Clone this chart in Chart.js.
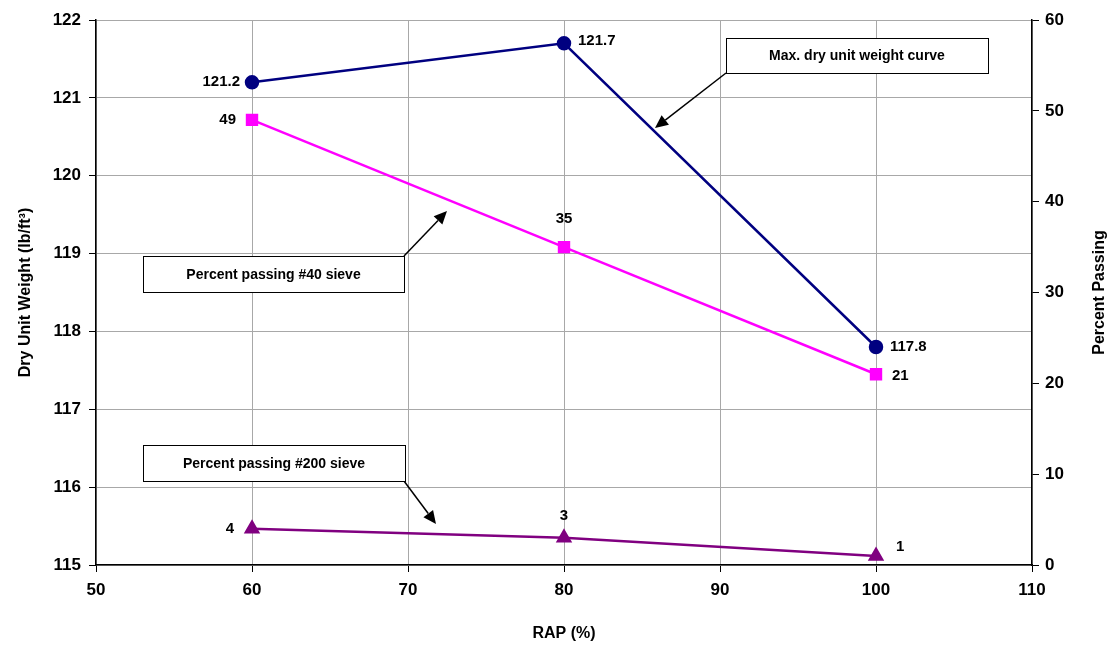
<!DOCTYPE html>
<html lang="en">
<head>
  <meta charset="UTF-8">
  <title>Dry Unit Weight vs RAP</title>
  <script src="https://cdn.jsdelivr.net/npm/chart.js"></script>
  <style>
    html, body { margin: 0; padding: 0; background: #fff; }
    #wrap { width: 1115px; height: 645px; position: relative; }
  </style>
</head>
<body>
  <div id="wrap"><canvas id="chart"></canvas></div>
  <script>
    // data
    const rap = [60, 80, 100];
    const dryUnitWeight = [121.2, 121.7, 117.8];
    const passing40 = [49, 35, 21];
    const passing200 = [4, 3, 1];

    const FONT = 'Liberation Sans, Arial, sans-serif';

    const pts = (ys) => rap.map((x, i) => ({ x: x, y: ys[i] }));

    // label offsets per dataset / point (dx, dy, align)
    const labelPos = [
      [[-12, 0, 'right'], [14, -2, 'left'], [14, 0, 'left']],
      [[-16, 0, 'right'], [0, -28, 'center'], [16, 2, 'left']],
      [[-18, 0, 'right'], [0, -22, 'center'], [20, -9, 'left']]
    ];

    const labelsPlugin = {
      id: 'pointLabels',
      afterDatasetsDraw(chart) {
        const ctx = chart.ctx;
        ctx.save();
        ctx.font = 'bold 15px ' + FONT;
        ctx.fillStyle = '#000';
        ctx.textBaseline = 'middle';
        chart.data.datasets.forEach((ds, di) => {
          const meta = chart.getDatasetMeta(di);
          meta.data.forEach((el, i) => {
            const p = labelPos[di][i];
            ctx.textAlign = p[2];
            ctx.fillText(String(ds.data[i].y), el.x + p[0], el.y + p[1]);
          });
        });
        ctx.restore();
      }
    };

    function arrow(ctx, x1, y1, x2, y2) {
      const a = Math.atan2(y2 - y1, x2 - x1);
      const len = 13, w = 6;
      const bx = x2 - len * Math.cos(a), by = y2 - len * Math.sin(a);
      ctx.beginPath();
      ctx.moveTo(x1, y1);
      ctx.lineTo(bx, by);
      ctx.stroke();
      ctx.beginPath();
      ctx.moveTo(x2, y2);
      ctx.lineTo(bx + w * Math.sin(a), by - w * Math.cos(a));
      ctx.lineTo(bx - w * Math.sin(a), by + w * Math.cos(a));
      ctx.closePath();
      ctx.fill();
    }

    const notes = [
      { text: 'Max. dry unit weight curve', box: [726, 38, 262, 35], from: [726, 73], to: [655, 128] },
      { text: 'Percent passing #40 sieve', box: [143, 256, 261, 36], from: [404, 256], to: [447, 211] },
      { text: 'Percent passing #200 sieve', box: [143, 445, 262, 36], from: [404, 481], to: [436, 524] }
    ];

    const notesPlugin = {
      id: 'notes',
      afterDraw(chart) {
        const ctx = chart.ctx;
        ctx.save();
        ctx.strokeStyle = '#000';
        ctx.fillStyle = '#000';
        ctx.lineWidth = 1.5;
        notes.forEach(n => {
          arrow(ctx, n.from[0], n.from[1], n.to[0], n.to[1]);
        });
        notes.forEach(n => {
          const [x, y, w, h] = n.box;
          ctx.fillStyle = '#fff';
          ctx.fillRect(x, y, w, h);
          ctx.lineWidth = 1;
          ctx.strokeRect(x + 0.5, y + 0.5, w, h);
          ctx.fillStyle = '#000';
          ctx.font = 'bold 14px ' + FONT;
          ctx.textAlign = 'center';
          ctx.textBaseline = 'middle';
          ctx.fillText(n.text, x + w / 2, y + h / 2 + 1);
        });
        // right axis title, reads bottom to top
        const yr = chart.scales.y2;
        ctx.translate(1100, (yr.top + yr.bottom) / 2);
        ctx.rotate(-Math.PI / 2);
        ctx.font = 'bold 16px ' + FONT;
        ctx.textAlign = 'center';
        ctx.textBaseline = 'middle';
        ctx.fillText('Percent Passing', 0, 0);
        ctx.restore();
      }
    };

    const tickFont = { family: FONT, size: 17, weight: 'bold' };

    new Chart(document.getElementById('chart'), {
      type: 'line',
      data: {
        datasets: [
          {
            label: 'Max. dry unit weight',
            data: pts(dryUnitWeight),
            yAxisID: 'y',
            borderColor: '#000080',
            backgroundColor: '#000080',
            borderWidth: 2.5,
            pointStyle: 'circle',
            pointRadius: 6,
            tension: 0
          },
          {
            label: 'Percent passing #40 sieve',
            data: pts(passing40),
            yAxisID: 'y2',
            borderColor: '#ff00ff',
            backgroundColor: '#ff00ff',
            borderWidth: 2.5,
            pointStyle: 'rect',
            pointRadius: 7,
            tension: 0
          },
          {
            label: 'Percent passing #200 sieve',
            data: pts(passing200),
            yAxisID: 'y2',
            borderColor: '#800080',
            backgroundColor: '#800080',
            borderWidth: 2.5,
            pointStyle: 'triangle',
            pointRadius: 7,
            tension: 0
          }
        ]
      },
      options: {
        responsive: true,
        maintainAspectRatio: false,
        animation: false,
        layout: { padding: { top: 20, left: 0, right: 0, bottom: 0 } },
        plugins: {
          legend: { display: false },
          tooltip: { enabled: false }
        },
        scales: {
          x: {
            type: 'linear',
            min: 50,
            max: 110,
            ticks: { stepSize: 10, color: '#000', font: tickFont, padding: 8 },
            grid: { color: '#a8a8a8', tickColor: '#000', tickLength: 7 },
            border: { color: '#000', width: 1.5 },
            title: { display: true, text: 'RAP (%)', color: '#000', font: { family: FONT, size: 16, weight: 'bold' }, padding: { top: 10, bottom: 2 } },
            afterFit(s) { s.height = 80; }
          },
          y: {
            position: 'left',
            min: 115,
            max: 122,
            ticks: { stepSize: 1, color: '#000', font: tickFont, padding: 8 },
            grid: { color: '#a8a8a8', tickColor: '#000', tickLength: 7 },
            border: { color: '#000', width: 1.5 },
            title: { display: true, text: 'Dry Unit Weight (lb/ft\u00b3)', color: '#000', font: { family: FONT, size: 16, weight: 'bold' }, padding: { top: 16, bottom: 0 } },
            afterFit(s) { s.width = 96; }
          },
          y2: {
            position: 'right',
            min: 0,
            max: 60,
            ticks: { stepSize: 10, color: '#000', font: tickFont, padding: 6 },
            grid: { drawOnChartArea: false, tickColor: '#000', tickLength: 7 },
            border: { color: '#000', width: 1.5 },
            afterFit(s) { s.width = 83; }
          }
        }
      },
      plugins: [labelsPlugin, notesPlugin]
    });
  </script>
</body>
</html>
